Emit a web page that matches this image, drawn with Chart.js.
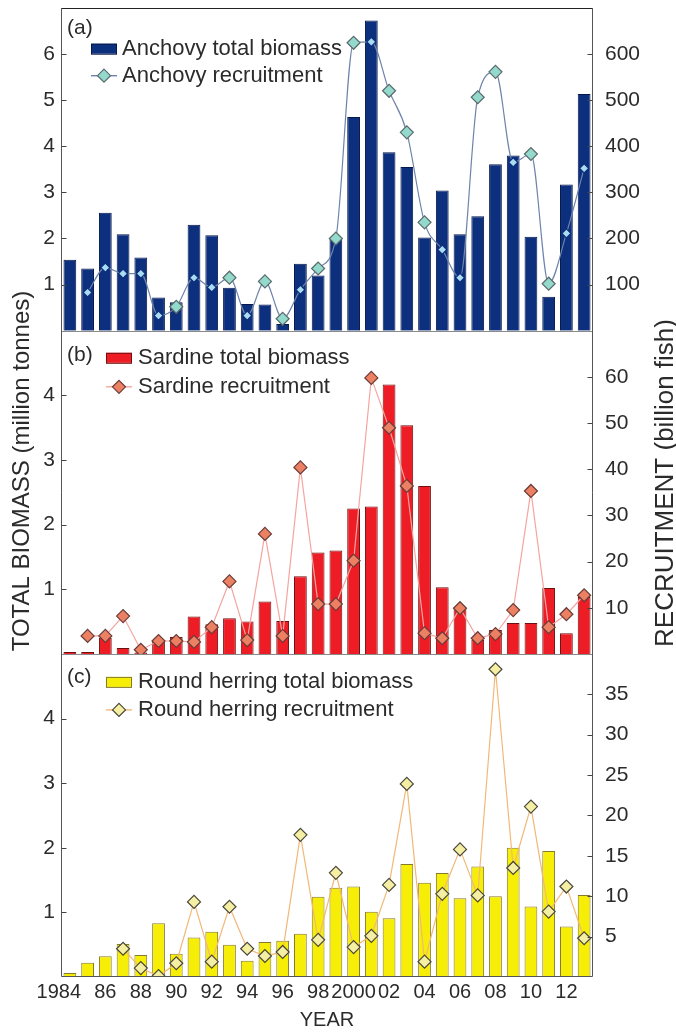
<!DOCTYPE html>
<html>
<head>
<meta charset="utf-8">
<title>Anchovy, sardine and round herring: total biomass and recruitment</title>
<script src="https://cdn.jsdelivr.net/npm/chart.js@4.4.1/dist/chart.umd.min.js"></script>
<style>
  html, body { margin: 0; padding: 0; background: #ffffff; }
  #box { position: relative; width: 676px; height: 1032px; }
</style>
</head>
<body>
<div id="box"><canvas id="chart" width="676" height="1032"></canvas></div>
<script>
// Survey years on the shared x axis
const years = [1984, 1985, 1986, 1987, 1988, 1989, 1990, 1991, 1992, 1993,
               1994, 1995, 1996, 1997, 1998, 1999, 2000, 2001, 2002, 2003,
               2004, 2005, 2006, 2007, 2008, 2009, 2010, 2011, 2012, 2013];
// Labels printed under every second year
const yearTickLabels = ['1984', '86', '88', '90', '92', '94', '96', '98',
                        '2000', '02', '04', '06', '08', '10', '12'];

// Total biomass (million tonnes)
const anchovyBiomass = [1.54, 1.35, 2.56, 2.09, 1.59, 0.72, 0.62, 2.30, 2.07, 0.93,
                        0.58, 0.57, 0.15, 1.45, 1.20, 2.00, 4.63, 6.72, 3.87, 3.55,
                        2.02, 3.04, 2.09, 2.48, 3.61, 3.80, 2.04, 0.74, 3.17, 5.13];
const sardineBiomass = [0.03, 0.03, 0.25, 0.09, 0.02, 0.21, 0.26, 0.58, 0.46, 0.55,
                        0.50, 0.81, 0.51, 1.20, 1.57, 1.60, 2.25, 2.28, 4.17, 3.54,
                        2.60, 1.03, 0.72, 0.22, 0.37, 0.48, 0.48, 1.02, 0.32, 0.88];
const roundHerringBiomass = [0.06, 0.22, 0.32, 0.51, 0.34, 0.83, 0.36, 0.61, 0.70, 0.50,
                             0.25, 0.54, 0.56, 0.67, 1.24, 1.38, 1.40, 1.01, 0.91, 1.75,
                             1.46, 1.61, 1.22, 1.71, 1.25, 2.00, 1.09, 1.95, 0.78, 1.27];

// Recruitment (billion fish); null where there is no estimate
const anchovyRecruitment = [null, 83, 137, 124, 124, 33, 52, 115, 94, 115,
                            33, 107, 26, 89, 135, 200, 624, 626, 520, 430,
                            235, 176, 115, 506, 561, 365, 383, 102, 211, 352];
const sardineRecruitment = [null, 3.9, 3.9, 8.2, 0.9, 2.8, 2.8, 2.6, 5.8, 15.7,
                            3.0, 26.0, 3.9, 40.4, 10.8, 10.8, 20.2, 59.8, 49.0, 36.4,
                            4.5, 3.4, 9.9, 3.4, 4.3, 9.5, 35.3, 5.8, 8.6, 12.7];
const roundHerringRecruitment = [null, null, null, 3.5, 1.1, 0.1, 1.7, 9.3, 1.9, 8.7,
                                 3.5, 2.6, 3.1, 17.6, 4.6, 12.9, 3.7, 5.1, 11.4, 23.9,
                                 1.9, 10.3, 15.8, 10.1, 38.1, 13.5, 21.1, 8.1, 11.2, 4.8];

// Axis ranges for panels (a), (b), (c)
const biomassMax = [7, 5, 5];
const recruitMax = [700, 70, 40];
const recruitStep = [100, 10, 5];

const FONT = "'Liberation Sans', Arial, Helvetica, sans-serif";
const INK = '#2b2b2b';
Chart.defaults.font.family = FONT;
Chart.defaults.color = INK;

const LEFT_W = 61, RIGHT_W = 83, BOTTOM_H = 55, TOP_PAD = 7;

// Fixed axis box sizes, without the extra room Chart.js keeps for end labels
function fixWidth(w) {
  return s => { s.width = w; s.paddingTop = 0; s.paddingBottom = 0; };
}

// Left (biomass) axes stacked on top of each other; a higher weight sits higher
function biomassAxis(max, weight) {
  return {
    type: 'linear', position: 'left', stack: 'biomass', stackWeight: 1, weight,
    min: 0, max,
    ticks: { stepSize: 1, padding: 6, color: INK, font: { size: 21 } },
    afterBuildTicks: s => { s.ticks = s.ticks.filter(t => t.value > 0 && t.value < max); },
    grid: { display: false, drawTicks: false },
    border: { display: false },
    afterFit: fixWidth(LEFT_W)
  };
}
// Right (recruitment) axes; a lower weight sits higher
function recruitAxis(max, step, weight) {
  return {
    type: 'linear', position: 'right', stack: 'recruit', stackWeight: 1, weight,
    min: 0, max,
    ticks: { stepSize: step, padding: 12, color: INK, font: { size: 21 } },
    afterBuildTicks: s => { s.ticks = s.ticks.filter(t => t.value > 0 && t.value < max); },
    grid: { display: false, drawTicks: false },
    border: { display: false },
    afterFit: fixWidth(RIGHT_W)
  };
}

// Panel colours
const style = {
  anchovy: { bar: '#0c2f7e', barEdge: '#06184a', line: '#6f84aa', fill: '#93d9cc', edge: '#5b6a6c', innerFill: '#a9dcf0' },
  sardine: { bar: '#ee1c24', barEdge: '#6e0f10', line: '#f4a5a0', fill: '#ec8062', edge: '#6a3b38' },
  herring: { bar: '#f6ee06', barEdge: '#857a2c', line: '#f2b877', fill: '#f4efa2', edge: '#4a473a' }
};

function barSet(label, data, axis, s) {
  return {
    type: 'bar', label, data, yAxisID: axis, xAxisID: 'x',
    backgroundColor: s.bar, borderColor: s.barEdge, borderWidth: 1,
    grouped: false, categoryPercentage: 1, barPercentage: 0.72, order: 2
  };
}
function lineSet(label, data, axis, s, extra) {
  return Object.assign({
    type: 'line', label, data, yAxisID: axis, xAxisID: 'x',
    borderColor: s.line, borderWidth: 1.2, tension: 0,
    pointStyle: 'rectRot', pointRadius: 6.5, pointHoverRadius: 6.5,
    pointBackgroundColor: s.fill, pointBorderColor: s.edge, pointBorderWidth: 1.2,
    order: 1
  }, extra || {});
}

// Anchovy markers that fall inside a dark bar show only their light core
const anchovyInside = i => {
  const r = anchovyRecruitment[i];
  return r != null && r / (recruitMax[0] / biomassMax[0]) < anchovyBiomass[i] - 0.1;
};

const datasets = [
  barSet('Anchovy total biomass', anchovyBiomass, 'bioA', style.anchovy),
  lineSet('Anchovy recruitment', anchovyRecruitment, 'recA', style.anchovy, {
    cubicInterpolationMode: 'monotone',
    pointRadius: c => anchovyInside(c.dataIndex) ? 4.5 : 6.5,
    pointBackgroundColor: c => anchovyInside(c.dataIndex) ? style.anchovy.innerFill : style.anchovy.fill,
    pointBorderColor: c => anchovyInside(c.dataIndex) ? style.anchovy.bar : style.anchovy.edge
  }),
  barSet('Sardine total biomass', sardineBiomass, 'bioB', style.sardine),
  lineSet('Sardine recruitment', sardineRecruitment, 'recB', style.sardine),
  barSet('Round herring total biomass', roundHerringBiomass, 'bioC', style.herring),
  lineSet('Round herring recruitment', roundHerringRecruitment, 'recC', style.herring)
];

// Legend placement inside each panel (offsets from the panel top)
const panelLegends = [
  { axis: 'bioA', tag: '(a)', bar: 0, line: 1, tagDy: 21, row1: 41, row2: 68, swatchX: 91, textX: 122, s: style.anchovy },
  { axis: 'bioB', tag: '(b)', bar: 2, line: 3, tagDy: 24, row1: 27, row2: 56, swatchX: 106, textX: 138, s: style.sardine },
  { axis: 'bioC', tag: '(c)', bar: 4, line: 5, tagDy: 23, row1: 28, row2: 56, swatchX: 106, textX: 138, s: style.herring }
];

function diamond(ctx, x, y, r, fill, stroke, lw) {
  ctx.beginPath();
  ctx.moveTo(x, y - r); ctx.lineTo(x + r, y); ctx.lineTo(x, y + r); ctx.lineTo(x - r, y);
  ctx.closePath();
  ctx.fillStyle = fill; ctx.fill();
  ctx.lineWidth = lw; ctx.strokeStyle = stroke; ctx.stroke();
}

// Panel frames with inward tick marks, axis titles and in-panel legends
const panelFrames = {
  id: 'panelFrames',
  afterDatasetsDraw(chart) {
    const { ctx, chartArea: ca } = chart;
    ctx.save();
    ctx.lineWidth = 1;
    const L = Math.round(ca.left) + 0.5, R = Math.round(ca.right) - 0.5;
    ['bioA', 'bioB', 'bioC'].forEach((id, k) => {
      const s = chart.scales[id];
      const top = Math.round(s.top) + 0.5;
      ctx.strokeStyle = k === 0 ? '#222' : '#8a8a8a';
      ctx.beginPath(); ctx.moveTo(L, top); ctx.lineTo(R, top); ctx.stroke();
    });
    ctx.strokeStyle = '#555';
    const B = Math.round(ca.bottom) - 0.5;
    ctx.beginPath();
    ctx.moveTo(L, Math.round(ca.top)); ctx.lineTo(L, B); ctx.lineTo(R, B); ctx.lineTo(R, Math.round(ca.top));
    ctx.stroke();
    ctx.strokeStyle = '#444';
    ['bioA', 'bioB', 'bioC'].forEach(id => {
      const s = chart.scales[id];
      s.ticks.forEach(t => {
        const y = Math.round(s.getPixelForValue(t.value)) + 0.5;
        ctx.beginPath(); ctx.moveTo(L, y); ctx.lineTo(L + 5, y); ctx.stroke();
      });
    });
    ['recA', 'recB', 'recC'].forEach(id => {
      const s = chart.scales[id];
      s.ticks.forEach(t => {
        const y = Math.round(s.getPixelForValue(t.value)) + 0.5;
        ctx.beginPath(); ctx.moveTo(R - 5, y); ctx.lineTo(R, y); ctx.stroke();
      });
    });
    ctx.restore();
  },
  afterDraw(chart) {
    const { ctx, chartArea: ca } = chart;
    ctx.save();
    // Shared axis titles
    ctx.fillStyle = INK;
    ctx.textAlign = 'center';
    ctx.textBaseline = 'alphabetic';
    ctx.font = `24px ${FONT}`;
    ctx.save(); ctx.translate(29, 471); ctx.rotate(-Math.PI / 2);
    ctx.fillText('TOTAL BIOMASS (million tonnes)', 0, 0); ctx.restore();
    ctx.font = `26px ${FONT}`;
    ctx.save(); ctx.translate(673, 483); ctx.rotate(-Math.PI / 2);
    ctx.fillText('RECRUITMENT (billion fish)', 0, 0); ctx.restore();

    // In-panel legends
    panelLegends.forEach(p => {
      const top = chart.scales[p.axis].top;
      const barDs = chart.data.datasets[p.bar], lineDs = chart.data.datasets[p.line];
      ctx.textAlign = 'left';
      ctx.textBaseline = 'middle';
      ctx.fillStyle = INK;
      ctx.font = `21px ${FONT}`;
      ctx.fillText(p.tag, ca.left + 6, top + p.tagDy);
      const y1 = top + p.row1, y2 = top + p.row2, sw = 26;
      ctx.fillStyle = p.s.bar; ctx.strokeStyle = p.s.barEdge; ctx.lineWidth = 1;
      ctx.fillRect(p.swatchX, y1 - 5, sw, 10);
      ctx.strokeRect(p.swatchX + 0.5, y1 - 5 + 0.5, sw - 1, 10);
      ctx.strokeStyle = p.s.line; ctx.lineWidth = 1.4;
      ctx.beginPath(); ctx.moveTo(p.swatchX, y2); ctx.lineTo(p.swatchX + sw, y2); ctx.stroke();
      diamond(ctx, p.swatchX + sw / 2, y2, 6.5, p.s.fill, p.s.edge, 1.2);
      ctx.fillStyle = INK;
      ctx.font = `22px ${FONT}`;
      ctx.fillText(barDs.label, p.textX, y1);
      ctx.fillText(lineDs.label, p.textX, y2);
    });
    ctx.restore();
  }
};

new Chart(document.getElementById('chart'), {
  data: { labels: years.map(String), datasets },
  options: {
    responsive: false,
    animation: false,
    devicePixelRatio: 1,
    layout: { padding: { top: TOP_PAD, left: 0, right: 0, bottom: 0 } },
    plugins: { legend: { display: false }, tooltip: { enabled: false } },
    scales: {
      x: {
        type: 'category', offset: true,
        grid: { display: false, drawTicks: false },
        border: { display: false },
        ticks: {
          autoSkip: false, maxRotation: 0, padding: 3, color: INK, font: { size: 20 },
          // the first (four-digit) year label sits a little left of its bar
          callback: (v, i) => (i === 0 ? yearTickLabels[0] + '    ' : i % 2 === 0 ? yearTickLabels[i / 2] : '')
        },
        title: { display: true, text: 'YEAR', color: INK, font: { size: 20 }, padding: { top: 0, bottom: 0 } },
        afterFit: s => { s.height = BOTTOM_H; s.paddingLeft = 0; s.paddingRight = 0; }
      },
      bioA: biomassAxis(biomassMax[0], 3),
      bioB: biomassAxis(biomassMax[1], 2),
      bioC: biomassAxis(biomassMax[2], 1),
      recA: recruitAxis(recruitMax[0], recruitStep[0], 1),
      recB: recruitAxis(recruitMax[1], recruitStep[1], 2),
      recC: recruitAxis(recruitMax[2], recruitStep[2], 3)
    }
  },
  plugins: [panelFrames]
});
</script>
</body>
</html>
